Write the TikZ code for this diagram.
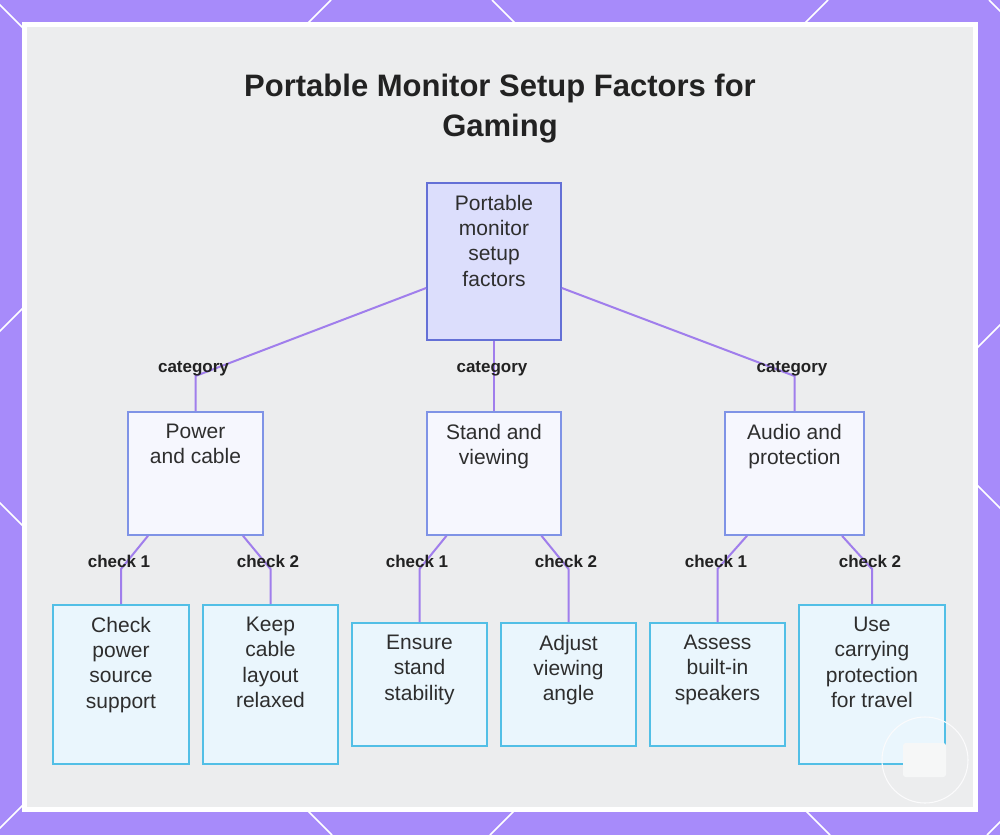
\documentclass[tikz,border=0pt]{standalone}
\usepackage{fontspec}
\setmainfont{Liberation Sans}
\usetikzlibrary{calc}
\definecolor{bgpurple}{HTML}{A78BFA}
\definecolor{panel}{HTML}{ECEDEE}
\definecolor{edgec}{HTML}{A07EEC}
\definecolor{rootf}{HTML}{DCDEFC}
\definecolor{rootb}{HTML}{6470D6}
\definecolor{catf}{HTML}{F6F7FE}
\definecolor{catb}{HTML}{7F93E6}
\definecolor{leaff}{HTML}{EAF6FD}
\definecolor{leafb}{HTML}{52BFE6}
\definecolor{txt}{HTML}{2E2E2E}
\definecolor{ttl}{HTML}{222222}
\tikzset{
  deco/.style={draw=white, line width=1.1pt},
  rootbox/.style={draw=rootb, fill=rootf, line width=1.2pt, inner sep=0pt},
  catbox/.style={draw=catb, fill=catf, line width=1.2pt, inner sep=0pt, minimum height=92.25pt},
  leafbox/.style={draw=leafb, fill=leaff, line width=1.2pt, inner sep=0pt},
  boxtext/.style={anchor=north, inner sep=0pt, align=center, text=txt, font=\fontsize{15.75}{19}\selectfont},
  elabel/.style={anchor=base, inner sep=0pt, text=ttl, font=\fontsize{12.75}{15}\selectfont\bfseries},
  edge/.style={draw=edgec, line width=1.5pt},
  titlestyle/.style={anchor=north, inner sep=0pt, align=center, text=ttl, font=\fontsize{23.25}{30}\selectfont\bfseries}
}
\begin{document}
\begin{tikzpicture}[x=0.75pt,y=-0.75pt]
\useasboundingbox (0,0) rectangle (1000,835);
\fill[bgpurple] (0,0) rectangle (1000,835);
\begin{scope}
\clip (0,0) rectangle (1000,835);
\foreach \c in {331,828,1325,1822} \draw[deco] (\c,0) -- (\c-835,835);
\foreach \c in {-503,-5,492,989} \draw[deco] (\c,0) -- (\c+835,835);
\end{scope}
\fill[white] (22,22) rectangle (978,812);
\fill[panel] (27,27) rectangle (973,807);

\node[titlestyle] (title) at (500,73.4) {Portable Monitor Setup Factors for\\Gaming};

% boxes
\node[rootbox, minimum width=100.5pt, minimum height=117.75pt] (root) at (494,261.5) {};
\node[catbox, minimum width=101.25pt] (pc) at (195.5,473.5) {};
\node[catbox, minimum width=100.5pt] (sv) at (494,473.5) {};
\node[catbox, minimum width=104.25pt] (ap) at (794.5,473.5) {};
\node[leafbox, minimum width=102pt, minimum height=119.25pt] (l1) at (121,684.5) {};
\node[leafbox, minimum width=101.25pt, minimum height=119.25pt] (l2) at (270.5,684.5) {};
\node[leafbox, minimum width=101.25pt, minimum height=92.25pt] (l3) at (419.5,684.5) {};
\node[leafbox, minimum width=101.25pt, minimum height=92.25pt] (l4) at (568.5,684.5) {};
\node[leafbox, minimum width=101.25pt, minimum height=92.25pt] (l5) at (717.5,684.5) {};
\node[leafbox, minimum width=109.5pt, minimum height=119.25pt] (l6) at (872,684.5) {};

% connectors
\draw[edge] (root.west) ++(0,26.5) -- (pc.north |- 0,376) -- (pc.north);
\draw[edge] (root.south) -- (sv.north);
\draw[edge] (root.east) ++(0,26.5) -- (ap.north |- 0,376) -- (ap.north);
\draw[edge] (pc.south) ++(-47.5,0) -- (l1.north |- 0,569) -- (l1.north);
\draw[edge] (pc.south) ++(47.5,0) -- (l2.north |- 0,569) -- (l2.north);
\draw[edge] (sv.south) ++(-47.5,0) -- (l3.north |- 0,569) -- (l3.north);
\draw[edge] (sv.south) ++(47.5,0) -- (l4.north |- 0,569) -- (l4.north);
\draw[edge] (ap.south) ++(-47.5,0) -- (l5.north |- 0,569) -- (l5.north);
\draw[edge] (ap.south) ++(47.5,0) -- (l6.north |- 0,569) -- (l6.north);

% box texts
\node[boxtext] (roott) at ([yshift=-9.4pt]root.north) {Portable\\monitor\\setup\\factors};
\node[boxtext] (pct) at ([yshift=-9.4pt]pc.north) {Power\\and cable};
\node[boxtext] (svt) at ([yshift=-9.4pt]sv.north) {Stand and\\viewing};
\node[boxtext] (apt) at ([yshift=-9.4pt]ap.north) {Audio and\\protection};
\node[boxtext] (l1t) at ([yshift=-9.4pt]l1.north) {Check\\power\\source\\support};
\node[boxtext] (l2t) at ([yshift=-9.4pt]l2.north) {Keep\\cable\\layout\\relaxed};
\node[boxtext] (l3t) at ([yshift=-9.4pt]l3.north) {Ensure\\stand\\stability};
\node[boxtext] (l4t) at ([yshift=-9.4pt]l4.north) {Adjust\\viewing\\angle};
\node[boxtext] (l5t) at ([yshift=-9.4pt]l5.north) {Assess\\built-in\\speakers};
\node[boxtext] (l6t) at ([yshift=-9.4pt]l6.north) {Use\\carrying\\protection\\for travel};

% connector labels
\node[elabel] (c1) at (193.5,372) {category};
\node[elabel] (c2) at (492,372) {category};
\node[elabel] (c3) at (792,372) {category};
\node[elabel] (k1) at (119,567) {check 1};
\node[elabel] (k2) at (268,567) {check 2};
\node[elabel] (k3) at (417,567) {check 1};
\node[elabel] (k4) at (566,567) {check 2};
\node[elabel] (k5) at (716,567) {check 1};
\node[elabel] (k6) at (870,567) {check 2};

% watermark
\fill[white!55!panel, rounded corners=2pt] (903,743) rectangle (946,777);
\draw[white!80!panel, line width=0.8pt] (925,760) circle [radius=32.25pt];
\end{tikzpicture}
\end{document}
